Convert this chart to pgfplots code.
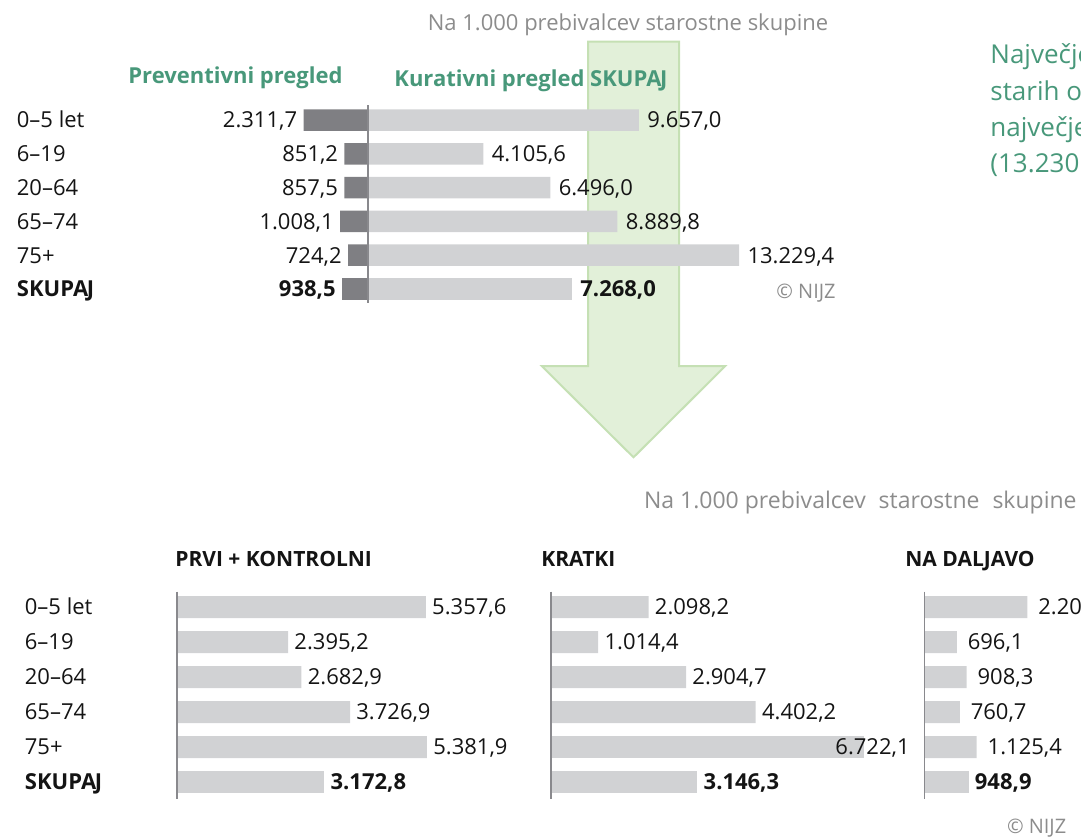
\documentclass[border=0pt]{standalone}
\usepackage{fontspec}
\setmainfont{Open Sans}
\usepackage{pgfplots}
\pgfplotsset{compat=1.18}
\definecolor{darkbar}{RGB}{127,127,131}
\definecolor{lightbar}{RGB}{209,210,212}
\definecolor{axisgrey}{RGB}{137,137,141}
\definecolor{greentext}{RGB}{72,152,122}
\definecolor{arrowfill}{RGB}{226,240,217}
\definecolor{arrowdraw}{RGB}{197,224,180}
\definecolor{greytext}{RGB}{140,140,140}
\definecolor{ink}{RGB}{20,20,20}
\newcommand{\skupaj}{SKUPA\kern-0.7pt J}
\tikzset{
  lab/.style={font=\fontsize{11}{13}\selectfont, text=ink, text height=7.85pt, text depth=0pt, inner sep=0pt, anchor=west},
}
\pgfplotsset{
  panel/.style={
    scale only axis, hide axis, clip=false,
    y dir=reverse, ymin=-0.5, ymax=5.5,
    xbar, bar shift=0pt,
    point meta=explicit symbolic,
    nodes near coords={\pgfplotspointmeta},
    every node near coord/.append style={font=\fontsize{11}{13}\selectfont, text=ink, text height=7.85pt, text depth=0pt, inner sep=0pt},
  },
  rightlab/.style={every node near coord/.append style={anchor=west, xshift=#1}},
  leftlab/.style={every node near coord/.append style={anchor=east, xshift=#1}},
  boldlab/.style={every node near coord/.append style={font=\fontsize{11}{13}\selectfont\bfseries}},
}
\begin{document}
\begin{tikzpicture}[x=0.5pt,y=-0.5pt]
\path[use as bounding box] (0,0) rectangle (1081,837);
% green arrow
\filldraw[fill=arrowfill, draw=arrowdraw, line width=1pt]
  (588,41.7) -- (679,41.7) -- (679,366) -- (725.3,366) -- (633.5,457.3) -- (541.7,366) -- (588,366) -- cycle;

% top texts
\node[font=\fontsize{11}{13}\selectfont, text=greytext, anchor=base, inner sep=0pt] at (628,30) {Na 1.000 prebivalcev starostne skupine};
\node[font=\fontsize{11}{13}\selectfont\bfseries, text=greentext, anchor=base west, inner sep=0pt] at (128,83.5) {Preventivni pregled};
\node[font=\fontsize{11}{13}\selectfont\bfseries, text=greentext, anchor=base west, inner sep=0pt] at (394,86) {Kurativni pregled \skupaj};

\node[lab] at (16.5,120) {0–5 let};
\node[lab] at (16.5,153.8) {6–19};
\node[lab] at (16.5,187.6) {20–64};
\node[lab] at (16.5,221.4) {65–74};
\node[lab] at (16.5,255.2) {75+};
\node[lab, font=\fontsize{11}{13}\selectfont\bfseries] at (16.5,289) {\skupaj};

% top chart
\begin{axis}[panel,
  at={(150pt,-51.55pt)}, anchor=north west,
  width=225pt, height=101.4pt,
  xmin=-2436.7, xmax=13617.6, bar width=10.75pt]
\addplot[fill=lightbar, draw=none, rightlab=4pt] coordinates {
  (9657.0,0) [9.657,0]
  (4105.6,1) [4.105,6]
  (6496.0,2) [6.496,0]
  (8889.8,3) [8.889,8]
  (13229.4,4) [13.229,4]
};
\addplot[fill=lightbar, draw=none, rightlab=4pt, boldlab] coordinates {
  (7268.0,5) [7.268,0]
};
\addplot[fill=darkbar, draw=none, leftlab=-3pt] coordinates {
  (-2311.7,0) [2.311,7]
  (-851.2,1) [851,2]
  (-857.5,2) [857,5]
  (-1008.1,3) [1.008,1]
  (-724.2,4) [724,2]
};
\addplot[fill=darkbar, draw=none, leftlab=-3pt, boldlab] coordinates {
  (-938.5,5) [938,5]
};
\draw[axisgrey, line width=0.9pt] (axis cs:0,-0.444) -- (axis cs:0,5.414);
\end{axis}
\node[font=\fontsize{10}{12}\selectfont, text=greytext, anchor=base west, inner sep=0pt] at (776,298) {© NIJZ};

% right green text
\node[font=\fontsize{13}{15}\selectfont, text=greentext, anchor=base west, inner sep=0pt] at (990,63) {Največje};
\node[font=\fontsize{13}{15}\selectfont, text=greentext, anchor=base west, inner sep=0pt] at (990,100) {starih od};
\node[font=\fontsize{13}{15}\selectfont, text=greentext, anchor=base west, inner sep=0pt] at (990,136) {največje};
\node[font=\fontsize{13}{15}\selectfont, text=greentext, anchor=base west, inner sep=0pt] at (990,172) {(13.230};

% bottom texts
\node[font=\fontsize{11.5}{13}\selectfont, text=greytext, anchor=base east, inner sep=0pt] at (1077,508) {Na 1.000 prebivalcev\hspace{3.5pt} starostne\hspace{3.5pt} skupine};
\node[font=\fontsize{10.5}{12}\selectfont\bfseries, text=ink, anchor=base west, inner sep=0pt] at (175,566) {PRVI + KONTROLNI};
\node[font=\fontsize{10.5}{12}\selectfont\bfseries, text=ink, anchor=base west, inner sep=0pt] at (541,566) {KRATKI};
\node[font=\fontsize{10.5}{12}\selectfont\bfseries, text=ink, anchor=base west, inner sep=0pt] at (905,566) {NA DALJAVO};

\node[lab] at (24.5,607) {0–5 let};
\node[lab] at (24.5,642) {6–19};
\node[lab] at (24.5,677) {20–64};
\node[lab] at (24.5,712) {65–74};
\node[lab] at (24.5,747) {75+};
\node[lab, font=\fontsize{11}{13}\selectfont\bfseries] at (24.5,782) {\skupaj};

% bottom panel 1
\begin{axis}[panel,
  at={(88.35pt,-294.75pt)}, anchor=north west,
  width=162.75pt, height=105pt,
  xmin=0, xmax=7000, bar width=11pt]
\addplot[fill=lightbar, draw=none, rightlab=3pt] coordinates {
  (5357.6,0) [5.357,6]
  (2395.2,1) [2.395,2]
  (2682.9,2) [2.682,9]
  (3726.9,3) [3.726,9]
  (5381.9,4) [5.381,9]
};
\addplot[fill=lightbar, draw=none, rightlab=3pt, boldlab] coordinates {
  (3172.8,5) [3.172,8]
};
\draw[axisgrey, line width=0.9pt] (axis cs:0,-0.44) -- (axis cs:0,5.49);
\end{axis}

% bottom panel 2
\begin{axis}[panel,
  at={(275.5pt,-294.75pt)}, anchor=north west,
  width=162.75pt, height=105pt,
  xmin=0, xmax=7000, bar width=11pt]
\addplot[fill=lightbar, draw=none, rightlab=3pt] coordinates {
  (2098.2,0) [2.098,2]
  (1014.4,1) [1.014,4]
  (2904.7,2) [2.904,7]
  (4402.2,3) [4.402,2]
};
\addplot[fill=lightbar, draw=none, leftlab=23.2pt] coordinates {
  (6722.1,4) [6.722,1]
};
\addplot[fill=lightbar, draw=none, rightlab=3pt, boldlab] coordinates {
  (3146.3,5) [3.146,3]
};
\draw[axisgrey, line width=0.9pt] (axis cs:0,-0.44) -- (axis cs:0,5.49);
\end{axis}

% bottom panel 3
\begin{axis}[panel,
  at={(462.2pt,-294.75pt)}, anchor=north west,
  width=162.75pt, height=105pt,
  xmin=0, xmax=7000, bar width=11pt]
\addplot[fill=lightbar, draw=none, rightlab=5.3pt] coordinates {
  (2215.0,0) [2.204,0]
  (696.1,1) [696,1]
  (908.3,2) [908,3]
  (760.7,3) [760,7]
  (1125.4,4) [1.125,4]
};
\addplot[fill=lightbar, draw=none, rightlab=3pt, boldlab] coordinates {
  (948.9,5) [948,9]
};
\draw[axisgrey, line width=0.9pt] (axis cs:0,-0.44) -- (axis cs:0,5.49);
\end{axis}
\node[font=\fontsize{10}{12}\selectfont, text=greytext, anchor=base west, inner sep=0pt] at (1006.6,833) {© NIJZ};
\end{tikzpicture}
\end{document}
